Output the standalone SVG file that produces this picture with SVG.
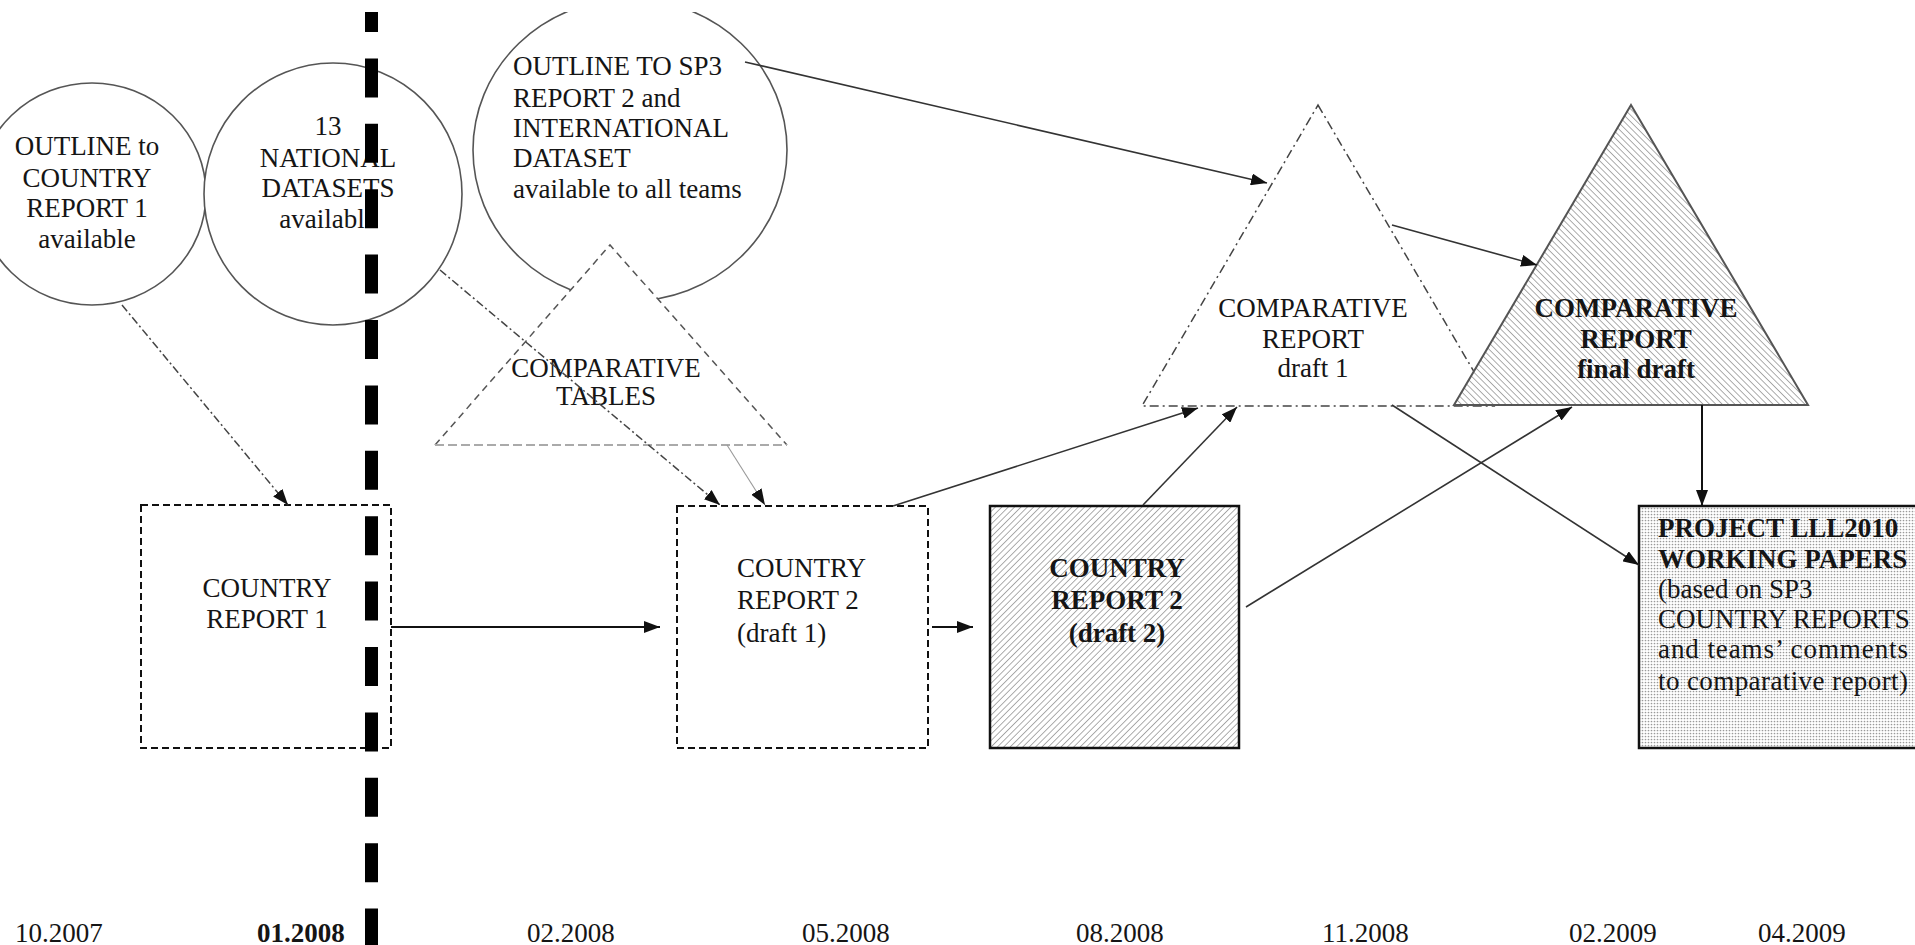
<svg xmlns="http://www.w3.org/2000/svg" width="1915" height="945" viewBox="0 0 1915 945">
<style>
.t{font-family:"Liberation Serif","Times New Roman",serif;font-size:27px;fill:#151515}
.b{font-weight:bold}
.c{text-anchor:middle}
.ring{fill:#fff;stroke:#555;stroke-width:1.6}
.dbox{fill:#fff;stroke:#111;stroke-width:2;stroke-dasharray:7 4}
.sbox{stroke:#111;stroke-width:2.5}
.ln{fill:none;stroke:#333;stroke-width:1.6;marker-end:url(#ah)}
.dd{fill:none;stroke:#444;stroke-width:1.5;stroke-dasharray:8 3 2 3;marker-end:url(#ah)}
.blk{fill:none;stroke:#111;stroke-width:2;marker-end:url(#ah)}
</style>
<defs>
<marker id="ah" viewBox="0 0 16 12" refX="16" refY="6" markerWidth="16" markerHeight="12" markerUnits="userSpaceOnUse" orient="auto">
<path d="M0,0 L16,6 L0,12 z" fill="#111"/>
</marker>
<pattern id="hatchF" width="4.5" height="10" patternUnits="userSpaceOnUse" patternTransform="rotate(45)">
<rect width="4.5" height="10" fill="#fff"/>
<line x1="0" y1="0" x2="0" y2="10" stroke="#8a8a8a" stroke-width="1.4"/>
</pattern>
<pattern id="hatchB" width="4.5" height="10" patternUnits="userSpaceOnUse" patternTransform="rotate(-45)">
<rect width="4.5" height="10" fill="#fff"/>
<line x1="0" y1="0" x2="0" y2="10" stroke="#8a8a8a" stroke-width="1.4"/>
</pattern>
<pattern id="dots" width="3" height="3" patternUnits="userSpaceOnUse">
<rect width="3" height="3" fill="#fff"/>
<circle cx="1.5" cy="1.5" r="0.85" fill="#9a9a9a"/>
</pattern>
<clipPath id="frame"><rect x="0" y="12" width="1915" height="933"/></clipPath>
</defs>

<g id="circle-outline-cr1">
<ellipse class="ring" cx="92" cy="194" rx="114" ry="111"/>
<text class="t c" x="87" y="155">OUTLINE to</text>
<text class="t c" x="87" y="187">COUNTRY</text>
<text class="t c" x="87" y="217">REPORT 1</text>
<text class="t c" x="87" y="248">available</text>
</g>

<g id="circle-national-datasets">
<ellipse class="ring" cx="333" cy="194" rx="129" ry="131"/>
<text class="t c" x="328" y="135">13</text>
<text class="t c" x="328" y="167">NATIONAL</text>
<text class="t c" x="328" y="197">DATASETS</text>
<text class="t c" x="328" y="228">available</text>
</g>

<g id="circle-outline-sp3" clip-path="url(#frame)">
<ellipse class="ring" cx="630" cy="150" rx="157" ry="151"/>
<text class="t" x="513" y="75">OUTLINE TO SP3</text>
<text class="t" x="513" y="107">REPORT 2 and</text>
<text class="t" x="513" y="137">INTERNATIONAL</text>
<text class="t" x="513" y="167">DATASET</text>
<text class="t" x="513" y="198">available to all teams</text>
</g>

<g id="tri-comparative-tables">
<polygon points="610,245 787,445 435,445" fill="#fff" stroke="none"/>
<polyline points="435,445 610,245 787,445" fill="none" stroke="#555" stroke-width="1.5" stroke-dasharray="7 5"/>
<line x1="435" y1="445" x2="787" y2="445" stroke="#aaa" stroke-width="2" stroke-dasharray="9 4"/>
<text class="t c" x="606" y="377">COMPARATIVE</text>
<text class="t c" x="606" y="405">TABLES</text>
</g>

<g id="box-country-report-1">
<rect class="dbox" x="141" y="505" width="250" height="243"/>
<text class="t c" x="267" y="597">COUNTRY</text>
<text class="t c" x="267" y="628">REPORT 1</text>
</g>

<g id="box-country-report-2-draft1">
<rect class="dbox" x="677" y="506" width="251" height="242"/>
<text class="t" x="737" y="577">COUNTRY</text>
<text class="t" x="737" y="609">REPORT 2</text>
<text class="t" x="737" y="642">(draft 1)</text>
</g>

<g id="box-country-report-2-draft2">
<rect class="sbox" x="990" y="506" width="249" height="242" fill="url(#hatchF)"/>
<text class="t b c" x="1117" y="577">COUNTRY</text>
<text class="t b c" x="1117" y="609">REPORT 2</text>
<text class="t b c" x="1117" y="642">(draft 2)</text>
</g>

<g id="tri-comparative-report-draft1">
<polygon points="1318,105 1494,406 1142,406" fill="#fff" stroke="#444" stroke-width="1.5" stroke-dasharray="9 4 2 4"/>
<text class="t c" x="1313" y="317">COMPARATIVE</text>
<text class="t c" x="1313" y="348">REPORT</text>
<text class="t c" x="1313" y="377">draft 1</text>
</g>

<g id="tri-comparative-report-final">
<polygon points="1631,105 1808,405 1454,405" fill="url(#hatchB)" stroke="#555" stroke-width="2"/>
<text class="t b c" x="1636" y="317">COMPARATIVE</text>
<text class="t b c" x="1636" y="348">REPORT</text>
<text class="t b c" x="1636" y="378">final draft</text>
</g>

<g id="box-working-papers">
<rect class="sbox" x="1639" y="506" width="290" height="242" fill="url(#dots)"/>
<text class="t b" x="1658" y="537">PROJECT LLL2010</text>
<text class="t b" x="1658" y="568">WORKING PAPERS</text>
<text class="t" x="1658" y="598">(based on SP3</text>
<text class="t" x="1658" y="628">COUNTRY REPORTS</text>
<text class="t" x="1658" y="658" textLength="250" lengthAdjust="spacing">and teams’ comments</text>
<text class="t" x="1658" y="690" textLength="250" lengthAdjust="spacing">to comparative report)</text>
</g>

<g id="connectors">
<line class="dd" x1="122" y1="305" x2="288" y2="505"/>
<line class="dd" x1="440" y1="270" x2="720" y2="505"/>
<line x1="727" y1="445" x2="765" y2="505" fill="none" stroke="#999" stroke-width="1.1" marker-end="url(#ah)"/>
<line class="blk" x1="391" y1="627" x2="660" y2="627"/>
<line class="blk" x1="932" y1="627" x2="973" y2="627"/>
<line class="ln" x1="745" y1="62" x2="1267" y2="183"/>
<line class="ln" x1="1392" y1="225" x2="1537" y2="265"/>
<line class="ln" x1="893" y1="506" x2="1198" y2="408" stroke="#555" stroke-width="2"/>
<line class="ln" x1="1143" y1="505" x2="1237" y2="407"/>
<line class="ln" x1="1246" y1="607" x2="1572" y2="407"/>
<line class="ln" x1="1392" y1="405" x2="1639" y2="565"/>
<line class="blk" x1="1702" y1="405" x2="1702" y2="506"/>
</g>

<g id="timeline-divider">
<line x1="371.5" y1="12" x2="371.5" y2="945" stroke="#000" stroke-width="13" stroke-dasharray="39 26.4" stroke-dashoffset="19"/>
</g>

<g id="dates">
<text class="t" x="15" y="942">10.2007</text>
<text class="t b" x="257" y="942">01.2008</text>
<text class="t" x="527" y="942">02.2008</text>
<text class="t" x="802" y="942">05.2008</text>
<text class="t" x="1076" y="942">08.2008</text>
<text class="t" x="1322" y="942">11.2008</text>
<text class="t" x="1569" y="942">02.2009</text>
<text class="t" x="1758" y="942">04.2009</text>
</g>
</svg>
